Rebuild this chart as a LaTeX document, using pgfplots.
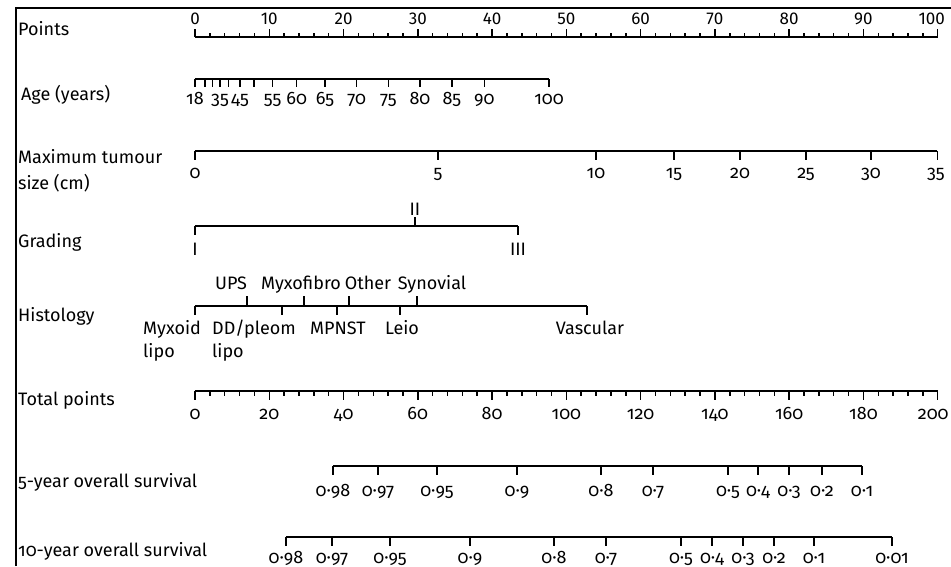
\documentclass[border=0pt]{standalone}
\usepackage{pgfplots}
\pgfplotsset{compat=1.18}
\usepackage{fontspec}
\setmainfont{Fira Sans}[Numbers=OldStyle]
\newfontfamily\liningfont{Fira Sans}[Numbers=Lining]
\newcommand\lbl{\fontsize{18}{21}\selectfont}
\begin{document}
\begin{tikzpicture}
\begin{axis}[
  width=951pt, height=566pt, scale only axis,
  xmin=-26.255, xmax=101.79, ymin=0, ymax=566, y dir=reverse,
  hide axis, clip=false,
  every node near coord/.append style={inner sep=0pt, font=\lbl, text=black},
  tickup/.style={draw=none, mark=none, error bars/.cd, y dir=minus, y fixed=#1, error mark=none,
     error bar style={draw=black, line width=1.5pt}},
  tickdown/.style={draw=none, mark=none, error bars/.cd, y dir=plus, y fixed=#1, error mark=none,
     error bar style={draw=black, line width=1.5pt}},
  scaleline/.style={black, line width=1.5pt, mark=none},
  lab/.style={draw=none, mark=none, nodes near coords, point meta=explicit symbolic,
     nodes near coords align={anchor=#1}},
]
% frame
\addplot[black, line width=2pt, mark=none] coordinates {(-24.10,566) (-24.10,8) (101.79,8)};

% Points
\addplot[scaleline] coordinates {(0,37) (100,37)};
\addplot[tickup=8] coordinates {(0,37) (10,37) (20,37) (30,37) (40,37) (50,37) (60,37) (70,37) (80,37) (90,37) (100,37)};
\addplot[tickup=4] coordinates {(2,37) (4,37) (6,37) (8,37) (12,37) (14,37) (16,37) (18,37) (22,37) (24,37) (26,37) (28,37)
 (32,37) (34,37) (36,37) (38,37) (42,37) (44,37) (46,37) (48,37) (52,37) (54,37) (56,37) (58,37)
 (62,37) (64,37) (66,37) (68,37) (72,37) (74,37) (76,37) (78,37) (82,37) (84,37) (86,37) (88,37)
 (92,37) (94,37) (96,37) (98,37)};
\addplot[lab=base, every node near coord/.append style={font=\liningfont\fontsize{17}{20}\selectfont}] coordinates {(0,24)[0] (10,24)[10] (20,24)[20] (30,24)[30] (40,24)[40] (50,24)[50] (60,24)[60] (70,24)[70] (80,24)[80] (90,24)[90] (99.2,24)[100]};

% Age
\addplot[scaleline] coordinates {(0,79) (47.66,79)};
\addplot[tickdown=8] coordinates {(0,79) (1.35,79) (2.33,79) (3.37,79) (4.48,79) (6.06,79) (7.94,79) (10.46,79) (13.69,79) (17.50,79) (21.77,79) (26.03,79) (30.29,79) (34.60,79) (38.95,79) (47.66,79)};
\addplot[lab=base] coordinates {(0,104.5)[18] (3.37,104.5)[35] (6.06,104.5)[45] (10.46,104.5)[55] (13.69,104.5)[60] (17.50,104.5)[65] (21.77,104.5)[70] (26.03,104.5)[75] (30.29,104.5)[80] (34.60,104.5)[85] (38.95,104.5)[90] (47.66,104.5)[100]};

% Tumour size
\addplot[scaleline] coordinates {(0,151) (99.95,151)};
\addplot[tickdown=9] coordinates {(0,151) (32.72,151) (53.99,151) (64.49,151) (73.38,151) (82.27,151) (91.02,151) (99.95,151)};
\addplot[lab=base] coordinates {(0,178)[0] (32.72,178)[5] (53.99,178)[10] (64.49,178)[15] (73.38,178)[20] (82.27,178)[25] (91.02,178)[30] (99.75,178)[35]};

% Grading
\addplot[scaleline] coordinates {(0,226) (43.49,226)};
\addplot[tickdown=9] coordinates {(0,226) (43.49,226)};
\addplot[tickup=9] coordinates {(29.62,226)};
\addplot[lab=base] coordinates {(0,255)[I] (29.62,215)[II] (43.49,255)[III]};

% Histology
\addplot[scaleline] coordinates {(0,306) (52.78,306)};
\addplot[tickup=10] coordinates {(7.00,306) (14.68,306) (20.74,306) (29.89,306)};
\addplot[tickdown=9] coordinates {(0,306) (11.71,306) (19.12,306) (27.60,306) (52.78,306)};
\addplot[lab=base] coordinates {(4.85,289)[UPS] (14.27,289)[Myxofibro] (23.29,289)[Other] (31.91,289)[Synovial]
 (19.25,334)[MPNST] (27.87,334)[Leio] (53.18,334)[Vascular]};
\addplot[lab=base west] coordinates {(-7.00,334)[Myxoid] (-7.00,357)[lipo] (2.29,334)[DD/pleom] (2.29,357)[lipo]};

% Total points
\addplot[scaleline] coordinates {(0,391) (100,391)};
\addplot[tickdown=8.5] coordinates {(0,391) (10,391) (20,391) (30,391) (40,391) (50,391) (60,391) (70,391) (80,391) (90,391) (100,391)};
\addplot[tickdown=5] coordinates {(2,391) (4,391) (6,391) (8,391) (12,391) (14,391) (16,391) (18,391) (22,391) (24,391) (26,391) (28,391)
 (32,391) (34,391) (36,391) (38,391) (42,391) (44,391) (46,391) (48,391) (52,391) (54,391) (56,391) (58,391)
 (62,391) (64,391) (66,391) (68,391) (72,391) (74,391) (76,391) (78,391) (82,391) (84,391) (86,391) (88,391)
 (92,391) (94,391) (96,391) (98,391)};
\addplot[lab=base] coordinates {(0,419)[0] (10,419)[20] (20,419)[40] (30,419)[60] (40,419)[80] (50,419)[100] (60,419)[120] (70,419)[140] (80,419)[160] (90,419)[180] (99.4,419)[200]};

% 5-year survival
\addplot[scaleline] coordinates {(18.58,466) (89.81,466)};
\addplot[tickdown=9] coordinates {(18.58,466) (24.64,466) (32.58,466) (43.36,466) (54.67,466) (61.67,466) (71.77,466) (75.80,466) (79.98,466) (84.42,466) (89.81,466)};
\addplot[lab=base] coordinates {(18.58,496)[0·98] (24.64,496)[0·97] (32.58,496)[0·95] (43.36,496)[0·9] (54.67,496)[0·8] (61.67,496)[0·7] (71.77,496)[0·5] (75.80,496)[0·4] (79.98,496)[0·3] (84.42,496)[0·2] (89.81,496)[0·1]};

% 10-year survival
\addplot[scaleline] coordinates {(12.25,537) (93.85,537)};
\addplot[tickdown=9] coordinates {(12.25,537) (18.45,537) (26.26,537) (37.03,537) (48.34,537) (55.34,537) (65.44,537) (69.61,537) (73.78,537) (77.96,537) (83.34,537) (93.85,537)};
\addplot[lab=base] coordinates {(12.25,563)[0·98] (18.45,563)[0·97] (26.26,563)[0·95] (37.03,563)[0·9] (48.34,563)[0·8] (55.34,563)[0·7] (65.44,563)[0·5] (69.61,563)[0·4] (73.78,563)[0·3] (77.96,563)[0·2] (83.34,563)[0·1] (93.85,563)[0·01]};

% Row titles
\addplot[lab=base west] coordinates {(-23.83,35)[Points] (-23.43,100.5)[Age (years)] (-23.83,163.5)[Maximum tumour] (-23.83,189)[size (cm)] (-23.83,247.5)[Grading] (-23.83,321)[Histology] (-23.83,405.5)[Total points] (-23.83,487)[5-year overall survival] (-23.83,556)[10-year overall survival]};
\end{axis}
\pgfresetboundingbox
\useasboundingbox (current axis.south west) rectangle (current axis.north east);
\end{tikzpicture}
\end{document}
